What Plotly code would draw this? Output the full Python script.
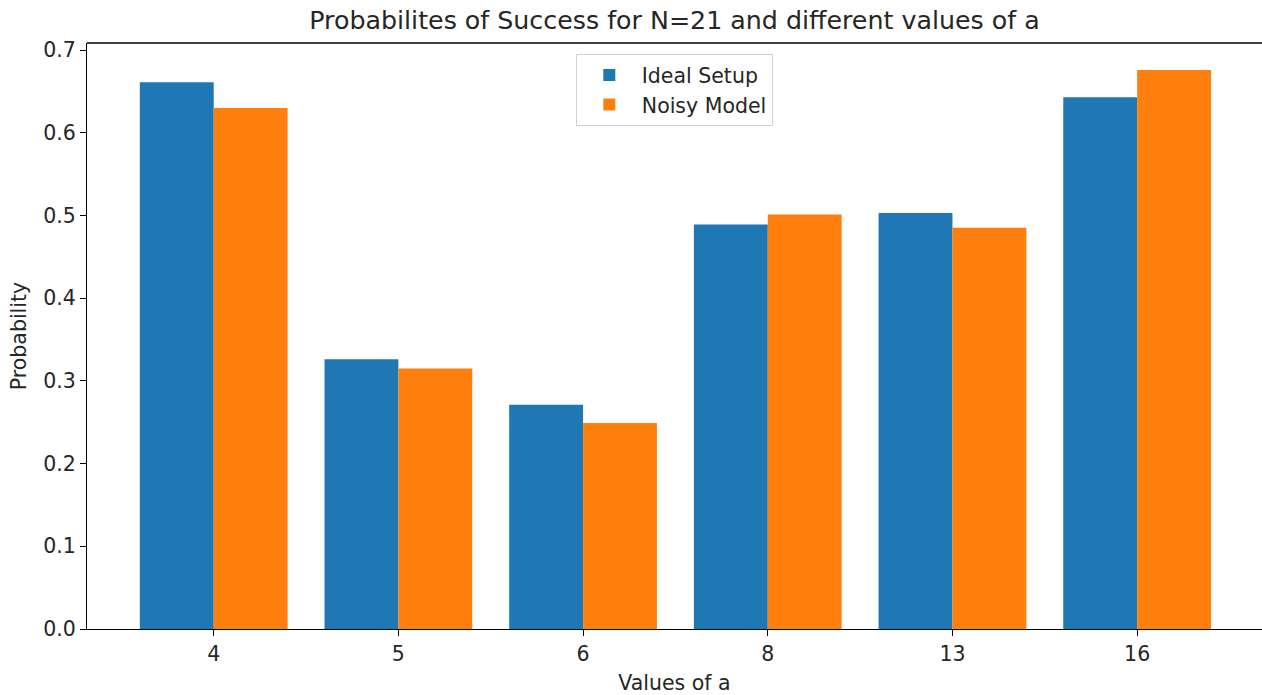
import plotly.graph_objects as go

a_values = ["4", "5", "6", "8", "13", "16"]
ideal_setup = [0.661, 0.326, 0.271, 0.489, 0.503, 0.643]
noisy_model = [0.630, 0.315, 0.249, 0.501, 0.485, 0.676]

FONT = "DejaVu Sans"
TXT = "#262626"
W, H = 1262, 695

fig = go.Figure()
fig.add_trace(go.Bar(x=a_values, y=ideal_setup, name="Ideal Setup",
                     marker=dict(color="#1f77b4", line=dict(width=0))))
fig.add_trace(go.Bar(x=a_values, y=noisy_model, name="Noisy Model",
                     marker=dict(color="#ff7f0e", line=dict(width=0))))

fig.update_layout(
    width=W, height=H,
    margin=dict(l=87, r=0, t=43, b=66),
    paper_bgcolor="white", plot_bgcolor="white",
    barmode="group", bargap=0.2, bargroupgap=0,
    font=dict(family=FONT, size=20.5, color=TXT),
    title=dict(text="Probabilites of Success for N=21 and different values of a",
               x=0.5, xref="paper", xanchor="center", y=1 - 20/H, yanchor="middle",
               font=dict(family=FONT, size=25.3, color=TXT)),
    legend=dict(x=0.416, y=0.981, xanchor="left", yanchor="top",
                bgcolor="rgba(255,255,255,0.8)", bordercolor="#d0d0d0", borderwidth=1,
                font=dict(family=FONT, size=20.5, color=TXT),
                itemwidth=55, tracegroupgap=2),
    showlegend=True,
)
fig.update_xaxes(
    type="category", range=[-0.686, 5.676], automargin=False,
    showline=True, linecolor="black", linewidth=1.3, mirror=False,
    ticks="outside", ticklen=6, tickwidth=1.3, tickcolor="black",
    showgrid=False, zeroline=False,
    title=dict(text="Values of a", standoff=10, font=dict(family=FONT, size=20.5, color=TXT)),
)
fig.update_yaxes(
    range=[0, 0.7085], automargin=False,
    tickvals=[0, 0.1, 0.2, 0.3, 0.4, 0.5, 0.6, 0.7], tickformat=".1f",
    showline=True, linecolor="black", linewidth=1.3,
    ticks="outside", ticklen=6, tickwidth=1.3, tickcolor="black",
    showgrid=False, zeroline=False,
    title=dict(text="Probability", standoff=10, font=dict(family=FONT, size=20.5, color=TXT)),
)
fig.add_shape(type="line", xref="paper", yref="paper", x0=0, x1=1, y0=1, y1=1,
              line=dict(color="black", width=1.3))
fig.write_html("out.html",
               config={"displayModeBar": False},
               post_script="document.body.style.margin='0';document.body.style.overflow='hidden';")
